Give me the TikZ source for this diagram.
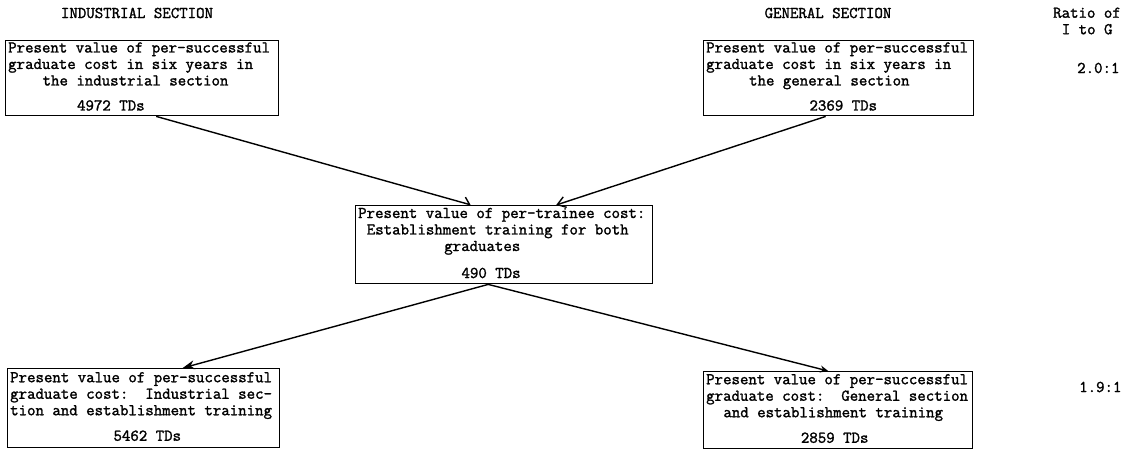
\documentclass[tikz,border=0pt]{standalone}
\usepackage{fontspec}
\usetikzlibrary{arrows.meta}
% a heavier typewriter face
\newfontfamily\typewriterface{Latin Modern Mono}[RawFeature={embolden=1.6}]
\newcommand\typeface{\typewriterface\fontsize{16.4}{16.5}\selectfont\frenchspacing}
\newcommand\skipchars[1]{\hspace*{#1\dimexpr0.525em\relax}}
% box contents: a left-aligned block of typed lines, starting just inside the frame
\newcommand\typed[2]{\makebox[#1][l]{\hspace{2.5pt}\begin{tabular}[c]{@{}l@{}}#2\end{tabular}}}
\tikzset{
  costbox/.style={draw, line width=1.4pt, inner sep=0pt, anchor=north west, font=\typeface},
  heading/.style={inner sep=0pt, font=\typeface},
  flow/.style={line width=1.4pt},
}
\begin{document}
\begin{tikzpicture}[x=1pt, y=-1pt]
\useasboundingbox (0,0) rectangle (1122,449);

% column headings
\node[heading] (hind) at (137,13) {INDUSTRIAL SECTION};
\node[heading] (hgen) at (828,13) {GENERAL SECTION};
\node[heading, anchor=north west] (hratio) at (1053,6)
  {\begin{tabular}{@{}l@{}}Ratio of\\\skipchars{1}I to G\end{tabular}};
\node[heading, anchor=west] (rtop) at (1077,68) {2.0:1};
\node[heading, anchor=west] (rbot) at (1079,387) {1.9:1};

% six-year section costs
\node[costbox, minimum width=273pt, minimum height=75pt] (ind) at (5,40)
  {\typed{273pt}{Present value of per-successful\\
   graduate cost in six years in\\
   \skipchars{4}the industrial section\\[8.5pt]
   \skipchars{8}4972 TDs}};
\node[costbox, minimum width=270pt, minimum height=75pt] (gen) at (703,40)
  {\typed{270pt}{Present value of per-successful\\
   graduate cost in six years in\\
   \skipchars{4}\ the general section\\[8.5pt]
   \skipchars{12}2369 TDs}};

% establishment training
\node[costbox, minimum width=297pt, minimum height=78pt] (est) at (355,205)
  {\typed{297pt}{Present value of per-trainee cost:\\
   \skipchars{1}Establishment training for both\\
   \skipchars{10}graduates\\[10.5pt]
   \skipchars{12}490 TDs}};

% combined costs
\node[costbox, minimum width=272pt, minimum height=79pt] (indest) at (7,368)
  {\typed{272pt}{Present value of per-successful\\
   graduate cost:~ Industrial sec-\\
   tion and establishment training\\[9pt]
   \skipchars{12}5462 TDs}};
\node[costbox, minimum width=269pt, minimum height=77pt] (genest) at (703,371)
  {\typed{269pt}{Present value of per-successful\\
   graduate cost:~ General section\\
   \skipchars{2}and establishment training\\[9pt]
   \skipchars{11}2859 TDs}};

% connectors
\draw[flow, -{Straight Barb[left, length=6pt, width=12pt]}]
  ([xshift=14pt]ind.south) -- ([xshift=-33pt]est.north);
\draw[flow, -{Straight Barb[length=8pt, width=11pt]}]
  ([xshift=-13pt]gen.south) -- ([xshift=52pt]est.north);
\draw[flow, -{Stealth[length=12pt, width=9pt]}]
  ([xshift=-16pt]est.south) -- ([xshift=39pt]indest.north);
\draw[flow, -{Stealth[length=8pt, width=7pt]}]
  ([xshift=-16pt]est.south) -- ([xshift=-10pt]genest.north);
\end{tikzpicture}
\end{document}
